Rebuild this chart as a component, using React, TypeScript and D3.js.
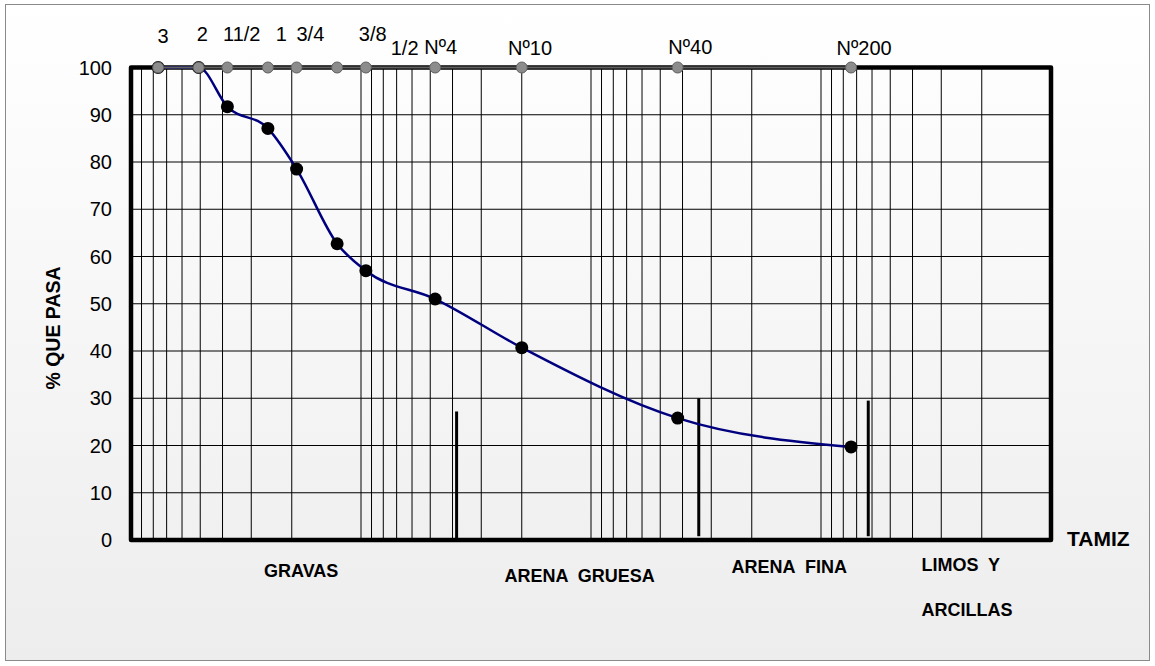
import React from "react";
import * as d3 from "d3";

// sieve openings (mm) and % passing
const sieveSizes = [76.2, 50.8, 38.1, 25.4, 19.05, 12.7, 9.525, 4.76, 2.0, 0.42, 0.074];
const percentPassing = [100, 100, 91.7, 87.1, 78.5, 62.7, 57.0, 51.0, 40.7, 25.8, 19.7];

// names written over the top markers, and where (in mm) each one sits
const sieveLabels = ["3", "2", "11/2", "1", "3/4", "1/2", "3/8", "Nº4", "Nº10", "Nº40", "Nº200"];
const sieveLabelAt = [72.6, 49.0, 33.0, 22.2, 16.6, 6.46, 8.89, 4.5, 1.84, 0.37, 0.0649];
const sieveLabelRow = [0, 1, 1, 1, 1, 3, 1, 2, 3, 2, 3];

// vertical marks between soil classes
const zoneBounds = [3.84, 0.34, 0.0623];
const zoneBoundTop = [27.2, 30, 29.5];
const zoneBoundBottom = [0, 0.8, 0.8];

const zoneNames = ["GRAVAS", "ARENA  GRUESA", "ARENA  FINA", "LIMOS  Y", "ARCILLAS"];
const zoneNameAt = [18.2, 1.12, 0.1374, 0.0366, 0.0366];

const yTicks = d3.range(0, 101, 10);

const FONT = "'Liberation Sans', Arial, sans-serif";

const App = () => {
  const width = 1155;
  const height = 666;
  const left = 131;
  const right = 1051;
  const top = 67.5;
  const bottom = 540;

  const x = d3.scaleLog().domain([100, 0.01]).range([left, right]);
  const y = d3.scaleLinear().domain([0, 100]).range([bottom, top]);

  const points = sieveSizes.map((s, i) => [x(s), y(percentPassing[i])] as [number, number]);
  // smoothed like the spreadsheet line, but without climbing over 100 %
  const curve = d3.line().curve(d3.curveMonotoneX)(points);

  const topLine = d3.line()(sieveSizes.map((s) => [x(s), y(100)] as [number, number]));

  // baselines for the label rows above the plot
  const rowBaseline = [43, 40.5, 53.5, 55];
  const zoneBaseline = [577, 582, 573, 571, 616];

  const gridX = x.ticks().filter((t) => t > 0.0101 && t < 99);

  return (
    <svg width={width} height={height} style={{ position: "fixed", left: 0, top: 0 }}>
      <defs>
        <linearGradient id="bg" x1="0" y1="0" x2="0" y2="1">
          <stop offset="0" stopColor="#ffffff" />
          <stop offset="1" stopColor="#ededed" />
        </linearGradient>
      </defs>
      <rect x={0} y={0} width={width} height={height} fill="#ffffff" />
      <rect x={5.5} y={4.5} width={1144} height={656} fill="url(#bg)" stroke="#8a8a8a" strokeWidth={1} />

      {/* grid */}
      <g stroke="#000" strokeWidth={1}>
        {gridX.map((t, i) => (
          <line key={`gx-${i}`} x1={x(t)} x2={x(t)} y1={top} y2={bottom} />
        ))}
        {yTicks.slice(1, -1).map((t) => (
          <line key={`gy-${t}`} x1={left} x2={right} y1={y(t)} y2={y(t)} />
        ))}
      </g>

      {/* class dividers */}
      <g stroke="#000" strokeWidth={3}>
        {zoneBounds.map((b, i) => (
          <line key={`zb-${i}`} x1={x(b)} x2={x(b)} y1={y(zoneBoundTop[i])} y2={y(zoneBoundBottom[i])} />
        ))}
      </g>

      {/* plot frame */}
      <rect
        x={left}
        y={top}
        width={right - left}
        height={bottom - top}
        fill="none"
        stroke="#000"
        strokeWidth={4.5}
        strokeLinejoin="round"
      />

      {/* grain size curve */}
      <path d={curve ?? ""} fill="none" stroke="#00007f" strokeWidth={2.5} />
      {points.map((p, i) => (
        <circle key={`pt-${i}`} cx={p[0]} cy={p[1]} r={6.5} fill="#000" />
      ))}

      {/* sieve row along 100 % */}
      <path d={topLine ?? ""} fill="none" stroke="#606060" strokeWidth={2} />
      {sieveSizes.map((s, i) => (
        <circle key={`sv-${i}`} cx={x(s)} cy={y(100)} r={5.5} fill="#8c8c8c" stroke="#5f5f5f" strokeWidth={1} />
      ))}
      <g fontFamily={FONT} fontSize={20} fill="#000" textAnchor="middle">
        {sieveLabels.map((l, i) => (
          <text key={`sl-${i}`} x={x(sieveLabelAt[i])} y={rowBaseline[sieveLabelRow[i]]}>
            {l}
          </text>
        ))}
      </g>

      {/* y axis */}
      <g fontFamily={FONT} fontSize={20} fill="#000" textAnchor="end">
        {yTicks.map((t) => (
          <text key={`yt-${t}`} x={112} y={y(t)} dy="0.36em">
            {t}
          </text>
        ))}
      </g>
      <text
        transform={`translate(60,328) rotate(-90)`}
        textAnchor="middle"
        fontFamily={FONT}
        fontSize={19.5}
        fontWeight="bold"
      >
        % QUE PASA
      </text>

      {/* x axis name and soil classes */}
      <text x={1067} y={546} fontFamily={FONT} fontSize={21} fontWeight="bold">
        TAMIZ
      </text>
      <g fontFamily={FONT} fontSize={18} fontWeight="bold" style={{ whiteSpace: "pre" }}>
        {zoneNames.map((n, i) => (
          <text
            key={`zn-${i}`}
            xmlSpace="preserve"
            x={x(zoneNameAt[i])}
            y={zoneBaseline[i]}
            textAnchor={i < 3 ? "middle" : "start"}
          >
            {n}
          </text>
        ))}
      </g>
    </svg>
  );
};

export default App;
